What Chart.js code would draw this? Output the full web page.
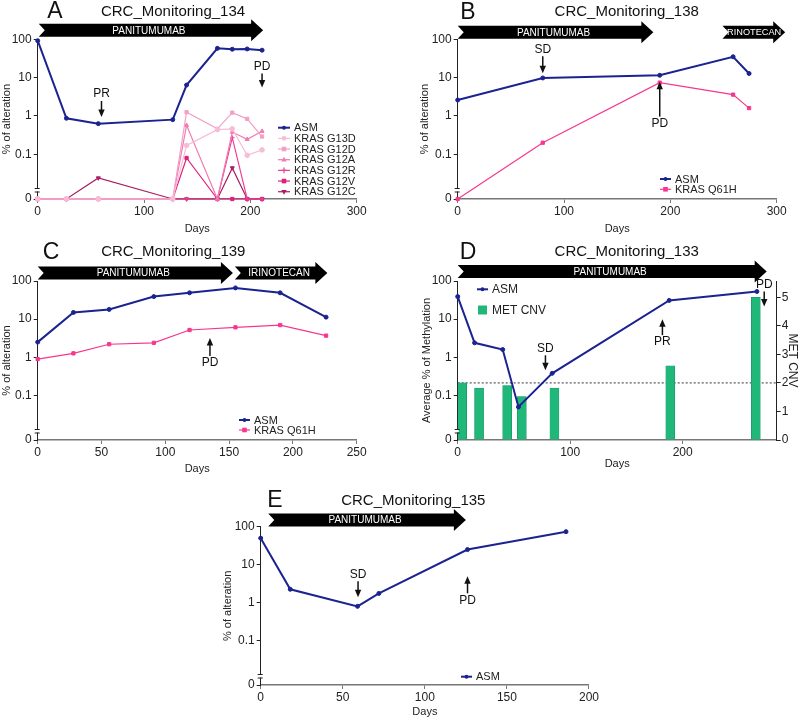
<!DOCTYPE html>
<html>
<head>
<meta charset="utf-8">
<title>CRC monitoring</title>
<script src="https://cdn.jsdelivr.net/npm/chart.js@4.4.1/dist/chart.umd.min.js"></script>
<style>
  html, body { margin: 0; padding: 0; background: #fff; }
  #page { position: relative; width: 800px; height: 720px; overflow: hidden; }
  .panel { position: absolute; width: 400px; height: 240px; }
</style>
</head>
<body>
<div id="page">
  <div class="panel" style="left:0;top:0"><canvas id="chartA"></canvas></div>
  <div class="panel" style="left:400px;top:0"><canvas id="chartB"></canvas></div>
  <div class="panel" style="left:0;top:240px"><canvas id="chartC"></canvas></div>
  <div class="panel" style="left:400px;top:240px"><canvas id="chartD"></canvas></div>
  <div class="panel" style="left:200px;top:480px"><canvas id="chartE"></canvas></div>
</div>
<script>
const FONT = "'Liberation Sans', Arial, Helvetica, sans-serif";
Chart.defaults.font.family = FONT;
Chart.defaults.color = '#222';
Chart.defaults.animation = false;
Chart.defaults.devicePixelRatio = 1;

// "0" sits below a broken log axis; this is where it lands on the log scale
const ZERO = 0.0068;

// ---- A: CRC_Monitoring_134
const daysA = [0, 27, 57, 127, 140, 169, 183, 197, 211];
const asmA  = [92, 0.87, 0.63, 0.8, 6.4, 58, 55, 56, 52];
const g13dA = [0, 0, 0, 0, 0.17, 0.44, 0.46, 0.094, 0.13];
const g12dA = [0, 0, 0, 0, 1.25, 0.46, 1.22, 0.84, 0.29];
const g12aA = [0, 0, 0, 0, 0.57, 0, 0.38, 0.245, 0.4];
const g12rA = [0, 0, 0, 0, 0, 0, 0.27, 0, 0];
const g12vA = [0, 0, 0, 0, 0.08, 0, 0, 0, 0];
const g12cA = [0, 0, 0.024, 0, 0, 0, 0.044, 0, 0];
const drugsA = [{ name: 'PANITUMUMAB', from: 1, to: 212 }];
const respA = [{ label: 'PR', day: 60, value: 0.94, dir: 'down', len: 16 },
               { label: 'PD', day: 211, value: 5.5, dir: 'down', len: 14 }];

// ---- B: CRC_Monitoring_138
const daysB = [0, 80, 190, 259, 274];
const asmB  = [2.6, 9.8, 11.5, 35, 12.8];
const q61hB = [0, 0.2, 7.4, 3.6, 1.6];
const drugsB = [{ name: 'PANITUMUMAB', from: 0, to: 184 },
                { name: 'IRINOTECAN', from: 249, to: 308 }];
const respB = [{ label: 'SD', day: 80, value: 13, dir: 'down', len: 17 },
               { label: 'PD', day: 190, value: 7.85, dir: 'up', len: 35 }];

// ---- C: CRC_Monitoring_139
const daysC = [0, 28, 56, 91, 119, 155, 190, 226];
const asmC  = [2.5, 15, 18, 39, 49, 66, 49, 11.3];
const q61hC = [0.9, 1.27, 2.2, 2.4, 5.2, 6.1, 7.0, 3.7];
const drugsC = [{ name: 'PANITUMUMAB', from: 0, to: 153 },
                { name: 'IRINOTECAN', from: 154.5, to: 227 }];
const respC = [{ label: 'PD', day: 135, value: 3.2, dir: 'up', len: 18 }];

// ---- D: CRC_Monitoring_133
const daysD = [0, 15, 40, 54, 84, 188, 266];
const asmD  = [39, 2.4, 1.6, 0.05, 0.38, 31, 53];
const metDaysD = [4, 19, 44, 57, 86, 189, 265];
const metCnvD  = [2.0, 1.82, 1.91, 1.52, 1.82, 2.6, 5.0];
const cnvRefD = 2;
const drugsD = [{ name: 'PANITUMUMAB', from: 0, to: 274.7 }];
const respD = [{ label: 'SD', day: 78, value: 0.457, dir: 'down', len: 15 },
               { label: 'PR', day: 182, value: 10, dir: 'up', len: 16 },
               { label: 'PD', day: 272.5, value: 21.4, dir: 'down', len: 15 }];

// ---- E: CRC_Monitoring_135
const daysE = [0, 18, 59, 72, 126, 186];
const asmE  = [50, 2.25, 0.8, 1.75, 25, 74];
const drugsE = [{ name: 'PANITUMUMAB', from: 4.6, to: 125 }];
const respE = [{ label: 'SD', day: 59.3, value: 1.38, dir: 'down', len: 16 },
               { label: 'PD', day: 126, value: 4.95, dir: 'up', len: 17 }];

const NAVY = '#1b2390';
const PINK = '#f7378f';

function pts(days, vals) {
  return days.map((d, i) => ({ x: d, y: vals[i] === 0 ? ZERO : vals[i] }));
}

function series(label, days, vals, color, style, extra) {
  return Object.assign({
    type: 'line', label: label, data: pts(days, vals),
    borderColor: color, backgroundColor: color,
    borderWidth: 1.2, pointStyle: style, pointRadius: 2.3,
    pointBorderWidth: 1, pointHoverRadius: 2.3, clip: 8
  }, extra || {});
}

function asm(days, vals) {
  return series('ASM', days, vals, NAVY, 'circle', { borderWidth: 2, pointRadius: 2 });
}

function logAxis(title, width, titlePad) {
  return {
    type: 'logarithmic', position: 'left', min: ZERO, max: 100,
    afterBuildTicks: s => { s.ticks = [ZERO, 0.1, 1, 10, 100].map(v => ({ value: v })); },
    afterFit: s => { s.width = width; },
    ticks: { font: { size: 12 }, padding: 2, autoSkip: false,
             callback: v => v === ZERO ? '0' : String(v) },
    grid: { drawOnChartArea: false, tickLength: 4, color: '#222' },
    border: { color: '#222', width: 1 },
    title: { display: true, text: title, font: { size: 11 }, padding: { top: titlePad, bottom: 0 } }
  };
}

function dayAxis(max, step, height, titlePad) {
  return {
    type: 'linear', position: 'bottom', min: 0, max: max, offset: false,
    afterBuildTicks: s => {
      s.ticks = s.ticks.filter(t => Math.abs(t.value / step - Math.round(t.value / step)) < 1e-6);
    },
    afterFit: s => { s.height = height; },
    ticks: { stepSize: step, font: { size: 12 }, padding: 1, maxRotation: 0, autoSkip: false },
    grid: { drawOnChartArea: false, tickLength: 4, color: '#777', offset: false },
    border: { color: '#777', width: 1.5 },
    title: { display: true, text: 'Days', font: { size: 11 }, padding: { top: 0, bottom: titlePad } }
  };
}

function marker(ctx, style, x, y, r, color, rot) {
  ctx.save();
  ctx.translate(x, y);
  if (rot) ctx.rotate(rot * Math.PI / 180);
  ctx.fillStyle = color;
  ctx.strokeStyle = color;
  ctx.lineWidth = 1.2;
  ctx.beginPath();
  if (style === 'rect') {
    ctx.rect(-r, -r, 2 * r, 2 * r);
  } else if (style === 'triangle') {
    ctx.moveTo(0, -r * 1.3); ctx.lineTo(r * 1.15, r * 0.8); ctx.lineTo(-r * 1.15, r * 0.8); ctx.closePath();
  } else if (style === 'cross') {
    ctx.moveTo(-r - 0.5, 0); ctx.lineTo(r + 0.5, 0); ctx.moveTo(0, -r - 0.5); ctx.lineTo(0, r + 0.5);
    ctx.stroke(); ctx.restore(); return;
  } else {
    ctx.arc(0, 0, r, 0, Math.PI * 2);
  }
  ctx.fill();
  ctx.restore();
}

const decor = {
  id: 'decor',
  beforeDatasetsDraw(chart, args, o) {
    if (o.refLine == null) return;
    const ctx = chart.ctx, a = chart.chartArea;
    const yy = chart.scales.y2.getPixelForValue(o.refLine);
    ctx.save();
    ctx.strokeStyle = '#333';
    ctx.lineWidth = 1;
    ctx.setLineDash([2, 2]);
    ctx.beginPath(); ctx.moveTo(a.left, yy); ctx.lineTo(a.right, yy); ctx.stroke();
    ctx.restore();
  },
  afterDraw(chart, args, o) {
    const ctx = chart.ctx, a = chart.chartArea;
    const xs = chart.scales.x, ys = chart.scales.y;
    ctx.save();

    // broken y axis just above "0"
    const yz = ys.getPixelForValue(ZERO);
    const ax = a.left - 0.5;
    ctx.fillStyle = '#fff';
    ctx.fillRect(ax - 1.5, yz - 10, 3, 2.5);
    ctx.strokeStyle = '#222';
    ctx.lineWidth = 1;
    ctx.beginPath();
    ctx.moveTo(ax - 2.5, yz - 10.5); ctx.lineTo(ax + 2.5, yz - 10.5);
    ctx.moveTo(ax - 2.5, yz - 7); ctx.lineTo(ax + 2.5, yz - 7);
    ctx.stroke();

    // treatment arrows
    const cy = a.top + o.drugOffset;
    o.drugs.forEach(d => {
      const x0 = xs.getPixelForValue(d.from), x1 = xs.getPixelForValue(d.to);
      const hl = 12, bh = 6.5, hh = 11, notch = 6;
      ctx.fillStyle = '#000';
      ctx.beginPath();
      ctx.moveTo(x0, cy - bh);
      ctx.lineTo(x1 - hl, cy - bh);
      ctx.lineTo(x1 - hl, cy - hh);
      ctx.lineTo(x1, cy);
      ctx.lineTo(x1 - hl, cy + hh);
      ctx.lineTo(x1 - hl, cy + bh);
      ctx.lineTo(x0, cy + bh);
      ctx.lineTo(x0 + notch, cy);
      ctx.closePath();
      ctx.fill();
      ctx.fillStyle = '#fff';
      ctx.textAlign = 'center';
      ctx.textBaseline = 'middle';
      ctx.font = '10px ' + FONT;
      const room = x1 - x0 - 6;
      let cx = (x0 + x1 - hl) / 2 + 4;
      const w = ctx.measureText(d.name).width;
      if (w > room - hl) {
        // short arrow: squeeze the name and let it run into the head
        ctx.font = Math.min(10, 10 * room / w).toFixed(1) + 'px ' + FONT;
        cx = (x0 + x1) / 2 - 1;
      }
      ctx.fillText(d.name, cx, cy + 0.5);
    });

    // response arrows (PR / SD / PD)
    ctx.fillStyle = '#111';
    ctx.strokeStyle = '#111';
    o.responses.forEach(r => {
      const px = xs.getPixelForValue(r.day), tip = ys.getPixelForValue(r.value);
      const dir = r.dir === 'down' ? 1 : -1;
      const tail = tip - dir * r.len;
      ctx.lineWidth = 1.5;
      ctx.beginPath(); ctx.moveTo(px, tail); ctx.lineTo(px, tip - dir * 5); ctx.stroke();
      ctx.beginPath();
      ctx.moveTo(px, tip); ctx.lineTo(px - 3.2, tip - dir * 7.5); ctx.lineTo(px + 3.2, tip - dir * 7.5);
      ctx.closePath(); ctx.fill();
      ctx.font = '12px ' + FONT;
      ctx.textAlign = 'center';
      ctx.textBaseline = 'middle';
      ctx.fillText(r.label, px, tail - dir * 7);
    });

    // legend
    const lg = o.legend;
    chart.data.datasets.forEach((ds, i) => {
      const yy = lg.y + i * lg.dy;
      if (ds.type === 'bar') {
        ctx.fillStyle = ds.backgroundColor;
        ctx.fillRect(lg.x + lg.len / 2 - 4.5, yy - 4.5, 9, 9);
      } else {
        ctx.strokeStyle = ds.borderColor;
        ctx.lineWidth = ds.borderWidth;
        ctx.beginPath(); ctx.moveTo(lg.x, yy); ctx.lineTo(lg.x + lg.len, yy); ctx.stroke();
        marker(ctx, ds.pointStyle, lg.x + lg.len / 2, yy, ds.pointRadius, ds.borderColor, ds.pointRotation);
      }
      ctx.fillStyle = '#222';
      ctx.font = lg.size + 'px ' + FONT;
      ctx.textAlign = 'left';
      ctx.textBaseline = 'middle';
      ctx.fillText(ds.label, lg.x + lg.len + 4, yy + 0.5);
    });

    // panel title and letter
    ctx.fillStyle = '#111';
    ctx.textAlign = 'center';
    ctx.textBaseline = 'middle';
    ctx.font = '15px ' + FONT;
    ctx.fillText(o.title, o.titleX, o.titleY);
    ctx.font = '23px ' + FONT;
    ctx.fillText(o.letter, o.letterX, o.titleY);
    ctx.restore();
  }
};

function panel(id, datasets, scales, padding, deco) {
  return new Chart(document.getElementById(id), {
    type: 'line',
    data: { datasets: datasets },
    options: {
      responsive: true, maintainAspectRatio: false,
      layout: { padding: padding },
      scales: scales,
      plugins: { legend: { display: false }, tooltip: { enabled: false }, decor: deco }
    },
    plugins: [decor]
  });
}

panel('chartA', [
  asm(daysA, asmA),
  series('KRAS G13D', daysA, g13dA, '#f8bcd6', 'circle'),
  series('KRAS G12D', daysA, g12dA, '#f4a0c6', 'rect'),
  series('KRAS G12A', daysA, g12aA, '#f27ab2', 'triangle'),
  series('KRAS G12R', daysA, g12rA, '#ee3f95', 'cross'),
  series('KRAS G12V', daysA, g12vA, '#e01e7e', 'rect'),
  series('KRAS G12C', daysA, g12cA, '#a81d63', 'triangle', { pointRotation: 180 })
], { x: dayAxis(300, 100, 41, 4), y: logAxis('% of alteration', 37.7, 0) },
  { left: 0, top: 39.3, right: 43.3, bottom: 0 },
  { title: 'CRC_Monitoring_134', titleX: 173, titleY: 12, letter: 'A', letterX: 55,
    drugs: drugsA, drugOffset: -9, responses: respA,
    legend: { x: 278, y: 127.7, dy: 10.67, len: 12, size: 11 } });

panel('chartB', [
  asm(daysB, asmB),
  series('KRAS Q61H', daysB, q61hB, PINK, 'rect')
], { x: dayAxis(300, 100, 41, 4), y: logAxis('% of alteration', 39.7, 0) },
  { left: 18, top: 39.3, right: 23.3, bottom: 0 },
  { title: 'CRC_Monitoring_138', titleX: 226.7, titleY: 12.3, letter: 'B', letterX: 68,
    drugs: drugsB, drugOffset: -7, responses: respB,
    legend: { x: 260, y: 179, dy: 10.3, len: 11, size: 11 } });

panel('chartC', [
  asm(daysC, asmC),
  series('KRAS Q61H', daysC, q61hC, PINK, 'rect')
], { x: dayAxis(250, 50, 40, 4), y: logAxis('% of alteration', 37.7, 0) },
  { left: 0, top: 41, right: 43.3, bottom: 0 },
  { title: 'CRC_Monitoring_139', titleX: 173.3, titleY: 12.3, letter: 'C', letterX: 51,
    drugs: drugsC, drugOffset: -8, responses: respC,
    legend: { x: 239, y: 180, dy: 10, len: 11, size: 11 } });

panel('chartD', [
  asm(daysD, asmD),
  { type: 'bar', label: 'MET CNV', yAxisID: 'y2', order: 1,
    data: metDaysD.map((d, i) => ({ x: d, y: metCnvD[i] })),
    backgroundColor: '#20b77a', borderColor: '#178a5b', borderWidth: 0.5, barThickness: 9 }
], {
  x: dayAxis(283.6, 100, 40, 9),
  y: logAxis('Average % of Methylation', 37.7, 0),
  y2: {
    type: 'linear', position: 'right', min: 0, max: 5.57,
    afterBuildTicks: s => { s.ticks = s.ticks.filter(t => Number.isInteger(t.value)); },
    afterFit: s => { s.width = 23.3; },
    ticks: { stepSize: 1, font: { size: 12 }, padding: 1 },
    grid: { drawOnChartArea: false, tickLength: 4, color: '#222' },
    border: { color: '#222', width: 1 },
    title: { display: true, text: 'MET CNV', font: { size: 12 }, padding: 0 }
  }
}, { left: 20, top: 41, right: 0, bottom: 0 },
  { title: 'CRC_Monitoring_133', titleX: 226.7, titleY: 12.3, letter: 'D', letterX: 68,
    drugs: drugsD, drugOffset: -9.5, responses: respD, refLine: cnvRefD,
    legend: { x: 77, y: 49.3, dy: 20.7, len: 11, size: 12 } });

panel('chartE', [
  asm(daysE, asmE)
], { x: dayAxis(200, 50, 35, 1), y: logAxis('% of alteration', 39, 0) },
  { left: 21.7, top: 46.7, right: 10, bottom: 0 },
  { title: 'CRC_Monitoring_135', titleX: 213.3, titleY: 21, letter: 'E', letterX: 75,
    drugs: drugsE, drugOffset: -6.7, responses: respE,
    legend: { x: 261, y: 196.7, dy: 10, len: 11, size: 11 } });
</script>
</body>
</html>
